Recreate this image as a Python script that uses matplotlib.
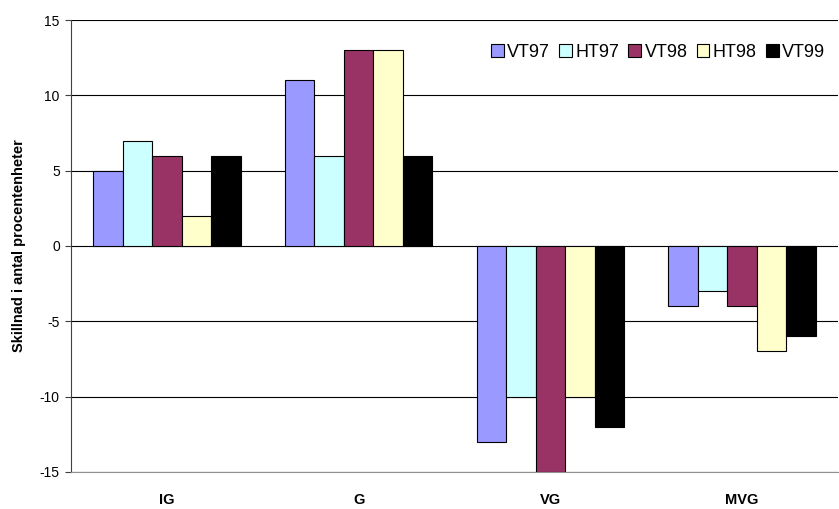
import numpy as np
import matplotlib.pyplot as plt

# ------------------------------------------------------------
# data
# ------------------------------------------------------------
categories = ["IG", "G", "VG", "MVG"]
series_names = ["VT97", "HT97", "VT98", "HT98", "VT99"]

vt97 = [5, 11, -13, -4]
ht97 = [7, 6, -10, -3]
vt98 = [6, 13, -15, -4]
ht98 = [2, 13, -10, -7]
vt99 = [6, 6, -12, -6]

series_values = [vt97, ht97, vt98, ht98, vt99]
series_colors = ["#9999FF", "#CCFFFF", "#993366", "#FFFFCC", "#000000"]

y_ticks = [-15, -10, -5, 0, 5, 10, 15]

# ------------------------------------------------------------
# figure
# ------------------------------------------------------------
plt.rcParams['font.family'] = ['Liberation Sans', 'DejaVu Sans']

fig = plt.figure(figsize=(8.39, 5.09), dpi=100)
ax = fig.add_axes([0.0846, 0.0727, 0.9142, 0.888])

x = np.arange(len(categories))
n = len(series_names)
bar_w = 0.77 / n

for i, (name, vals, col) in enumerate(zip(series_names, series_values, series_colors)):
    offs = (i - (n - 1) / 2) * bar_w
    ax.bar(x + offs, vals, width=bar_w, color=col, edgecolor="black",
           linewidth=0.8, label=name, zorder=3)

ax.set_xlim(-0.5, len(categories) - 0.5)
ax.set_ylim(-15, 15)
ax.set_yticks(y_ticks)
ax.set_yticklabels([str(t) for t in y_ticks], fontsize=10)
ax.set_xticks(x)
ax.set_xticklabels(categories, fontsize=10.5, fontweight="bold")
ax.tick_params(axis="x", length=0, pad=15)
ax.tick_params(axis="y", length=4, width=0.8, color="#404040", pad=4)

ax.grid(True, axis="y", color="black", linewidth=0.8, zorder=0)
for side in ["top", "right"]:
    ax.spines[side].set_visible(False)
ax.spines["left"].set_color("#404040")
ax.spines["bottom"].set_color("#909090")

ax.set_ylabel("Skillnad i antal procentenheter", fontsize=10.5, fontweight="bold", labelpad=10)

ax.legend(loc="upper right", bbox_to_anchor=(1.0, 0.975), ncol=5, frameon=False,
          fontsize=13, handlelength=0.7, handleheight=0.7, handletextpad=0.2,
          columnspacing=0.5, borderaxespad=0.3)

plt.savefig("out.png", dpi=100)
